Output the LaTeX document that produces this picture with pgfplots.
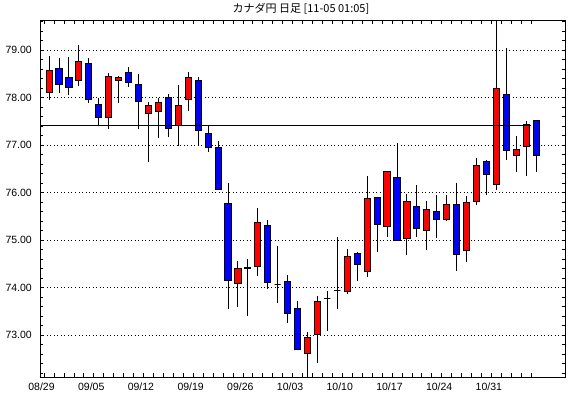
\documentclass[border=0pt]{standalone}
\usepackage{fontspec}
\setmainfont{Liberation Sans}
\newfontfamily\jp{Noto Sans CJK JP}
\usepackage{pgfplots}
\pgfplotsset{compat=1.18}
\definecolor{cred}{RGB}{255,0,0}
\definecolor{cblue}{RGB}{0,0,255}
% colour, position, low, body bottom, body top, high
\newcommand{\candle}[6]{%
  \pgfmathsetmacro\xl{#2-0.31}\pgfmathsetmacro\xr{#2+0.31}%
  \addplot[black, line width=0.8pt] coordinates {(#2,#3) (#2,#6)};
  \edef\tmp{\noexpand\addplot[draw=black, fill=#1, line width=0.8pt]
    coordinates {(\xl,#4) (\xr,#4) (\xr,#5) (\xl,#5)} --cycle;}\tmp}
\begin{document}
\begin{tikzpicture}
\begin{axis}[
  at={(0pt,0pt)}, anchor=south west,
  scale only axis, width=525pt, height=356.5pt,
  xmin=-0.905, xmax=51.91, ymin=72.12, ymax=79.62,
  axis line style={black, line width=0.8pt},
  tick align=inside, tick pos=both, xticklabel pos=lower, yticklabel pos=left,
  major tick length=0pt, minor tick length=3.5pt,
  tick style={black, line width=0.6pt},
  xtick={-0.75,4.25,9.25,14.25,19.25,24.25,29.25,34.25,39.25,44.25},
  xticklabels={08/29,09/05,09/12,09/19,09/26,10/03,10/10,10/17,10/24,10/31},
  minor xtick={-0.5,0.5,...,48.5},
  ytick={73,74,75,76,77,78,79},
  minor ytick={72.2,72.4,...,79.61},
  /pgf/number format/assume math mode=true,
  yticklabel={\pgfmathprintnumber[fixed,fixed zerofill,precision=2]{\tick}},
  tick label style={font=\fontsize{10.5}{12}\selectfont},
  yticklabel style={anchor=east, inner sep=0pt, xshift=-8pt},
  xticklabel style={anchor=north, inner sep=0pt, yshift=-5.5pt},
  ymajorgrids, major grid style={black, line width=0.6pt, dash pattern=on 1pt off 2.5pt},
  title={\jp カナダ円 日足 [11-05 01:05]},
  title style={font=\fontsize{11}{13}\selectfont, at={(0.5,1)}, anchor=center,
    yshift=5.5pt, xshift=-1.5pt, inner sep=0pt},
]
\candle{cred}{0}{77.95}{78.11}{78.58}{78.88}
\candle{cblue}{1}{78.09}{78.28}{78.61}{78.84}
\candle{cblue}{2}{78.05}{78.21}{78.43}{78.86}
\candle{cred}{3}{78.25}{78.35}{78.76}{79.11}
\candle{cblue}{4}{77.89}{77.96}{78.72}{78.84}
\candle{cblue}{5}{77.39}{77.58}{77.86}{77.99}
\candle{cred}{6}{77.34}{77.58}{78.45}{78.52}
\candle{cred}{7}{77.89}{78.36}{78.42}{78.45}
\candle{cblue}{8}{78.23}{78.32}{78.53}{78.64}
\candle{cblue}{9}{77.33}{77.92}{78.28}{78.49}
\candle{cred}{10}{76.65}{77.67}{77.84}{77.91}
\candle{cred}{11}{77.14}{77.71}{77.90}{78.00}
\candle{cblue}{12}{77.16}{77.35}{78.00}{78.07}
\candle{cred}{13}{76.99}{77.41}{77.84}{78.26}
\candle{cred}{14}{77.72}{77.95}{78.43}{78.54}
\candle{cblue}{15}{76.99}{77.31}{78.35}{78.43}
\candle{cblue}{16}{76.85}{76.95}{77.25}{77.39}
\candle{cblue}{17}{76.07}{76.07}{76.95}{77.08}
\candle{cblue}{18}{73.56}{74.15}{75.77}{76.21}
\candle{cred}{19}{73.60}{74.09}{74.40}{74.55}
\candle{black}{20}{73.41}{74.41}{74.43}{74.61}
\candle{cred}{21}{74.25}{74.45}{75.37}{75.67}
\candle{cblue}{22}{73.98}{74.11}{75.31}{75.42}
\candle{black}{23}{73.68}{74.07}{74.07}{74.87}
\candle{cblue}{24}{73.26}{73.46}{74.13}{74.26}
\candle{cblue}{25}{72.68}{72.71}{73.56}{73.72}
\candle{cred}{26}{71.90}{72.61}{72.95}{73.06}
\candle{cred}{27}{72.42}{73.01}{73.72}{73.82}
\candle{black}{28}{73.08}{73.77}{73.77}{73.93}
\candle{black}{29}{73.55}{73.94}{73.94}{75.06}
\candle{cred}{30}{73.87}{73.93}{74.66}{74.81}
\candle{cblue}{31}{74.14}{74.49}{74.72}{74.75}
\candle{cred}{32}{74.23}{74.35}{75.88}{76.35}
\candle{cblue}{33}{74.75}{75.33}{75.90}{75.90}
\candle{cred}{34}{75.07}{75.29}{76.45}{76.45}
\candle{cblue}{35}{74.99}{74.99}{76.32}{77.04}
\candle{cred}{36}{74.69}{75.04}{75.81}{75.97}
\candle{cblue}{37}{75.07}{75.25}{75.71}{76.16}
\candle{cred}{38}{74.80}{75.20}{75.65}{75.82}
\candle{cblue}{39}{75.05}{75.44}{75.60}{75.95}
\candle{cred}{40}{75.41}{75.44}{75.75}{75.95}
\candle{cblue}{41}{74.35}{74.70}{75.75}{76.20}
\candle{cred}{42}{74.54}{74.78}{75.79}{75.92}
\candle{cred}{43}{75.74}{75.81}{76.57}{76.73}
\candle{cblue}{44}{75.94}{76.38}{76.66}{76.68}
\candle{cred}{45}{76.05}{76.17}{78.19}{79.80}
\candle{cblue}{46}{76.68}{76.89}{78.07}{79.04}
\candle{cred}{47}{76.44}{76.78}{76.91}{77.19}
\candle{cred}{48}{76.35}{76.97}{77.44}{77.51}
\candle{cblue}{49}{76.43}{76.78}{77.51}{77.51}
\addplot[black, line width=0.8pt] coordinates {(-0.905,77.42) (48.45,77.42)};
\end{axis}
\pgfresetboundingbox
\path[use as bounding box] (-40pt,-21pt) rectangle (530pt,377pt);
\end{tikzpicture}
\end{document}
